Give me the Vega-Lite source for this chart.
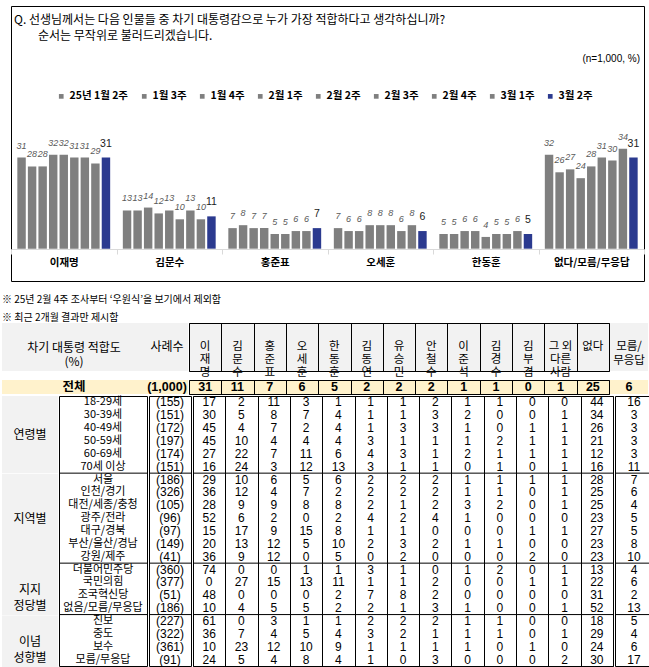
{
  "$schema": "https://vega.github.io/schema/vega-lite/v6.json",
  "padding": {"left": 2, "top": 5, "right": 2, "bottom": 4},
  "background": "white",
  "config": {
    "view": {"stroke": "#000", "strokeWidth": 1},
    "text": {"font": "Noto Sans CJK KR", "fontSize": 12, "color": "#000"},
    "axis": {"labelFont": "Noto Sans CJK KR"}
  },
  "datasets": {
    "bars": [
      {"cand": "이재명", "week": "25년 1월 2주", "pct": 31}, {"cand": "이재명", "week": "1월 3주", "pct": 28}, {"cand": "이재명", "week": "1월 4주", "pct": 28}, {"cand": "이재명", "week": "2월 1주", "pct": 32}, {"cand": "이재명", "week": "2월 2주", "pct": 32}, {"cand": "이재명", "week": "2월 3주", "pct": 31}, {"cand": "이재명", "week": "2월 4주", "pct": 31}, {"cand": "이재명", "week": "3월 1주", "pct": 29}, {"cand": "이재명", "week": "3월 2주", "pct": 31},
      {"cand": "김문수", "week": "25년 1월 2주", "pct": 13}, {"cand": "김문수", "week": "1월 3주", "pct": 13}, {"cand": "김문수", "week": "1월 4주", "pct": 14}, {"cand": "김문수", "week": "2월 1주", "pct": 12}, {"cand": "김문수", "week": "2월 2주", "pct": 13}, {"cand": "김문수", "week": "2월 3주", "pct": 10}, {"cand": "김문수", "week": "2월 4주", "pct": 13}, {"cand": "김문수", "week": "3월 1주", "pct": 10}, {"cand": "김문수", "week": "3월 2주", "pct": 11},
      {"cand": "홍준표", "week": "25년 1월 2주", "pct": 7}, {"cand": "홍준표", "week": "1월 3주", "pct": 8}, {"cand": "홍준표", "week": "1월 4주", "pct": 7}, {"cand": "홍준표", "week": "2월 1주", "pct": 7}, {"cand": "홍준표", "week": "2월 2주", "pct": 5}, {"cand": "홍준표", "week": "2월 3주", "pct": 5}, {"cand": "홍준표", "week": "2월 4주", "pct": 6}, {"cand": "홍준표", "week": "3월 1주", "pct": 6}, {"cand": "홍준표", "week": "3월 2주", "pct": 7},
      {"cand": "오세훈", "week": "25년 1월 2주", "pct": 7}, {"cand": "오세훈", "week": "1월 3주", "pct": 6}, {"cand": "오세훈", "week": "1월 4주", "pct": 6}, {"cand": "오세훈", "week": "2월 1주", "pct": 8}, {"cand": "오세훈", "week": "2월 2주", "pct": 8}, {"cand": "오세훈", "week": "2월 3주", "pct": 8}, {"cand": "오세훈", "week": "2월 4주", "pct": 6}, {"cand": "오세훈", "week": "3월 1주", "pct": 8}, {"cand": "오세훈", "week": "3월 2주", "pct": 6},
      {"cand": "한동훈", "week": "25년 1월 2주", "pct": 5}, {"cand": "한동훈", "week": "1월 3주", "pct": 5}, {"cand": "한동훈", "week": "1월 4주", "pct": 6}, {"cand": "한동훈", "week": "2월 1주", "pct": 6}, {"cand": "한동훈", "week": "2월 2주", "pct": 4}, {"cand": "한동훈", "week": "2월 3주", "pct": 5}, {"cand": "한동훈", "week": "2월 4주", "pct": 5}, {"cand": "한동훈", "week": "3월 1주", "pct": 6}, {"cand": "한동훈", "week": "3월 2주", "pct": 5},
      {"cand": "없다/모름/무응답", "week": "25년 1월 2주", "pct": 32}, {"cand": "없다/모름/무응답", "week": "1월 3주", "pct": 26}, {"cand": "없다/모름/무응답", "week": "1월 4주", "pct": 27}, {"cand": "없다/모름/무응답", "week": "2월 1주", "pct": 24}, {"cand": "없다/모름/무응답", "week": "2월 2주", "pct": 28}, {"cand": "없다/모름/무응답", "week": "2월 3주", "pct": 31}, {"cand": "없다/모름/무응답", "week": "2월 4주", "pct": 30}, {"cand": "없다/모름/무응답", "week": "3월 1주", "pct": 34}, {"cand": "없다/모름/무응답", "week": "3월 2주", "pct": 31}
    ],
    "head": [
      {"cand": "이재명", "h": "이\n재\n명"}, {"cand": "김문수", "h": "김\n문\n수"}, {"cand": "홍준표", "h": "홍\n준\n표"}, {"cand": "오세훈", "h": "오\n세\n훈"}, {"cand": "한동훈", "h": "한\n동\n훈"}, {"cand": "김동연", "h": "김\n동\n연"}, {"cand": "유승민", "h": "유\n승\n민"}, {"cand": "안철수", "h": "안\n철\n수"}, {"cand": "이준석", "h": "이\n준\n석"}, {"cand": "김경수", "h": "김\n경\n수"}, {"cand": "김부겸", "h": "김\n부\n겸"}, {"cand": "그외", "h": "그 외\n다른\n사람"}, {"cand": "없다", "h": "없다"}
    ],
    "total": [
      {"sub": "전체", "n": "(1,000)", "이재명": 31, "김문수": 11, "홍준표": 7, "오세훈": 6, "한동훈": 5, "김동연": 2, "유승민": 2, "안철수": 2, "이준석": 1, "김경수": 1, "김부겸": 0, "그외": 1, "없다": 25, "모름무응답": 6}
    ],
    "body": [
      {"sub": "18-29세", "n": "(155)", "이재명": 17, "김문수": 2, "홍준표": 11, "오세훈": 3, "한동훈": 1, "김동연": 1, "유승민": 1, "안철수": 2, "이준석": 1, "김경수": 1, "김부겸": 0, "그외": 0, "없다": 44, "모름무응답": 16},
      {"sub": "30-39세", "n": "(151)", "이재명": 30, "김문수": 5, "홍준표": 8, "오세훈": 7, "한동훈": 4, "김동연": 1, "유승민": 1, "안철수": 3, "이준석": 2, "김경수": 0, "김부겸": 0, "그외": 1, "없다": 34, "모름무응답": 3},
      {"sub": "40-49세", "n": "(172)", "이재명": 45, "김문수": 4, "홍준표": 7, "오세훈": 2, "한동훈": 4, "김동연": 1, "유승민": 3, "안철수": 3, "이준석": 1, "김경수": 0, "김부겸": 1, "그외": 1, "없다": 26, "모름무응답": 3},
      {"sub": "50-59세", "n": "(197)", "이재명": 45, "김문수": 10, "홍준표": 4, "오세훈": 4, "한동훈": 4, "김동연": 3, "유승민": 1, "안철수": 1, "이준석": 1, "김경수": 2, "김부겸": 1, "그외": 1, "없다": 21, "모름무응답": 3},
      {"sub": "60-69세", "n": "(174)", "이재명": 27, "김문수": 22, "홍준표": 7, "오세훈": 11, "한동훈": 6, "김동연": 4, "유승민": 3, "안철수": 1, "이준석": 2, "김경수": 1, "김부겸": 1, "그외": 1, "없다": 12, "모름무응답": 3},
      {"sub": "70세 이상", "n": "(151)", "이재명": 16, "김문수": 24, "홍준표": 3, "오세훈": 12, "한동훈": 13, "김동연": 3, "유승민": 1, "안철수": 1, "이준석": 0, "김경수": 1, "김부겸": 0, "그외": 1, "없다": 16, "모름무응답": 11},
      {"sub": "서울", "n": "(186)", "이재명": 29, "김문수": 10, "홍준표": 6, "오세훈": 5, "한동훈": 6, "김동연": 2, "유승민": 2, "안철수": 2, "이준석": 1, "김경수": 1, "김부겸": 1, "그외": 1, "없다": 28, "모름무응답": 7},
      {"sub": "인천/경기", "n": "(326)", "이재명": 36, "김문수": 12, "홍준표": 4, "오세훈": 7, "한동훈": 2, "김동연": 2, "유승민": 2, "안철수": 2, "이준석": 1, "김경수": 1, "김부겸": 0, "그외": 1, "없다": 25, "모름무응답": 6},
      {"sub": "대전/세종/충청", "n": "(105)", "이재명": 28, "김문수": 9, "홍준표": 9, "오세훈": 8, "한동훈": 8, "김동연": 2, "유승민": 1, "안철수": 2, "이준석": 3, "김경수": 2, "김부겸": 0, "그외": 1, "없다": 25, "모름무응답": 4},
      {"sub": "광주/전라", "n": "(96)", "이재명": 52, "김문수": 6, "홍준표": 2, "오세훈": 0, "한동훈": 2, "김동연": 4, "유승민": 2, "안철수": 4, "이준석": 1, "김경수": 0, "김부겸": 0, "그외": 0, "없다": 23, "모름무응답": 5},
      {"sub": "대구/경북", "n": "(97)", "이재명": 15, "김문수": 17, "홍준표": 9, "오세훈": 15, "한동훈": 8, "김동연": 1, "유승민": 1, "안철수": 0, "이준석": 0, "김경수": 0, "김부겸": 1, "그외": 1, "없다": 27, "모름무응답": 5},
      {"sub": "부산/울산/경남", "n": "(149)", "이재명": 20, "김문수": 13, "홍준표": 12, "오세훈": 5, "한동훈": 10, "김동연": 2, "유승민": 3, "안철수": 2, "이준석": 1, "김경수": 1, "김부겸": 0, "그외": 0, "없다": 23, "모름무응답": 8},
      {"sub": "강원/제주", "n": "(41)", "이재명": 36, "김문수": 9, "홍준표": 12, "오세훈": 0, "한동훈": 5, "김동연": 0, "유승민": 2, "안철수": 0, "이준석": 0, "김경수": 0, "김부겸": 2, "그외": 0, "없다": 23, "모름무응답": 10},
      {"sub": "더불어민주당", "n": "(360)", "이재명": 74, "김문수": 0, "홍준표": 0, "오세훈": 1, "한동훈": 1, "김동연": 3, "유승민": 1, "안철수": 0, "이준석": 1, "김경수": 2, "김부겸": 0, "그외": 1, "없다": 13, "모름무응답": 4},
      {"sub": "국민의힘", "n": "(377)", "이재명": 0, "김문수": 27, "홍준표": 15, "오세훈": 13, "한동훈": 11, "김동연": 1, "유승민": 1, "안철수": 2, "이준석": 0, "김경수": 0, "김부겸": 1, "그외": 1, "없다": 22, "모름무응답": 6},
      {"sub": "조국혁신당", "n": "(51)", "이재명": 48, "김문수": 0, "홍준표": 0, "오세훈": 0, "한동훈": 2, "김동연": 7, "유승민": 8, "안철수": 2, "이준석": 0, "김경수": 0, "김부겸": 0, "그외": 0, "없다": 31, "모름무응답": 2},
      {"sub": "없음/모름/무응답", "n": "(186)", "이재명": 10, "김문수": 4, "홍준표": 5, "오세훈": 5, "한동훈": 2, "김동연": 2, "유승민": 1, "안철수": 3, "이준석": 1, "김경수": 0, "김부겸": 0, "그외": 1, "없다": 52, "모름무응답": 13},
      {"sub": "진보", "n": "(227)", "이재명": 61, "김문수": 0, "홍준표": 3, "오세훈": 1, "한동훈": 1, "김동연": 2, "유승민": 2, "안철수": 2, "이준석": 1, "김경수": 1, "김부겸": 0, "그외": 0, "없다": 18, "모름무응답": 5},
      {"sub": "중도", "n": "(322)", "이재명": 36, "김문수": 7, "홍준표": 4, "오세훈": 5, "한동훈": 4, "김동연": 3, "유승민": 2, "안철수": 1, "이준석": 1, "김경수": 1, "김부겸": 0, "그외": 1, "없다": 29, "모름무응답": 4},
      {"sub": "보수", "n": "(361)", "이재명": 10, "김문수": 23, "홍준표": 12, "오세훈": 10, "한동훈": 9, "김동연": 1, "유승민": 1, "안철수": 1, "이준석": 1, "김경수": 0, "김부겸": 1, "그외": 0, "없다": 24, "모름무응답": 6},
      {"sub": "모름/무응답", "n": "(91)", "이재명": 24, "김문수": 5, "홍준표": 4, "오세훈": 8, "한동훈": 4, "김동연": 1, "유승민": 0, "안철수": 3, "이준석": 0, "김경수": 0, "김부겸": 0, "그외": 2, "없다": 30, "모름무응답": 17}
    ]
  },
  "center": true,
  "spacing": 12,
  "vconcat": [
    {
      "width": 633,
      "height": 275,
      "title": {
        "text": ["Q. 선생님께서는 다음 인물들 중 차기 대통령감으로 누가 가장 적합하다고 생각하십니까?", "\u200b\u3000\u3000순서는 무작위로 불러드리겠습니다."],
        "anchor": "start", "frame": "group", "orient": "top", "offset": 0, "baseline": "top",
        "dx": 3, "dy": 37, "font": "Noto Sans CJK KR", "fontSize": 12, "fontWeight": "normal", "color": "#000", "lineHeight": 16
      },
      "layer": [
        {
          "data": {"name": "bars"},
          "encoding": {
            "x": {
              "field": "cand", "type": "nominal",
              "scale": {"type": "band", "domain": ["이재명", "김문수", "홍준표", "오세훈", "한동훈", "없다/모름/무응답"], "paddingInner": 0, "paddingOuter": 0},
              "axis": {"orient": "bottom", "offset": -32, "title": null, "labelAngle": 0, "labelFont": "Noto Sans CJK KR", "labelFontSize": 10.5, "labelFontWeight": "bold", "labelColor": "#000", "labelPadding": 3, "tickBand": "extent", "tickColor": "#d9d9d9", "tickSize": 5, "domainColor": "#d9d9d9", "grid": false}
            },
            "xOffset": {
              "field": "week", "type": "nominal",
              "scale": {"domain": ["25년 1월 2주", "1월 3주", "1월 4주", "2월 1주", "2월 2주", "2월 3주", "2월 4주", "3월 1주", "3월 2주"], "paddingInner": 0.2, "paddingOuter": 0.6}
            },
            "y": {"field": "pct", "type": "quantitative", "scale": {"domain": [-11, 82.6], "nice": false, "zero": false}, "axis": null}
          },
          "layer": [
            {
              "mark": {"type": "bar"},
              "encoding": {
                "y2": {"datum": 0},
                "color": {
                  "field": "week", "type": "nominal",
                  "scale": {"domain": ["25년 1월 2주", "1월 3주", "1월 4주", "2월 1주", "2월 2주", "2월 3주", "2월 4주", "3월 1주", "3월 2주"], "range": ["#7f7f7f", "#7f7f7f", "#7f7f7f", "#7f7f7f", "#7f7f7f", "#7f7f7f", "#7f7f7f", "#7f7f7f", "#2b3a8f"]},
                  "legend": {"orient": "none", "legendX": 54, "legendY": 85, "direction": "horizontal", "columns": 9, "title": null, "symbolType": "square", "symbolSize": 22, "symbolStrokeWidth": 0, "labelFont": "Noto Sans CJK KR", "labelFontSize": 10.5, "labelFontWeight": "bold", "labelColor": "#000", "columnPadding": 10, "labelOffset": 3}
                }
              }
            },
            {
              "transform": [{"filter": "datum.week !== '3월 2주'"}],
              "mark": {"type": "text", "dy": -12, "fontStyle": "italic", "fontSize": 9, "font": "Liberation Sans", "color": "#595959"},
              "encoding": {"text": {"field": "pct", "type": "quantitative"}}
            },
            {
              "transform": [{"filter": "datum.week === '3월 2주'"}],
              "mark": {"type": "text", "dy": -14, "fontSize": 10.5, "font": "Liberation Sans", "color": "#1a1a1a"},
              "encoding": {"text": {"field": "pct", "type": "quantitative"}}
            }
          ]
        },
        {
          "data": {"values": [{"note": "(n=1,000, %)"}]},
          "mark": {"type": "text", "align": "right", "baseline": "middle", "dx": -4, "fontSize": 10, "font": "Liberation Sans", "color": "#000"},
          "encoding": {"text": {"field": "note", "type": "nominal"}, "x": {"value": "width"}, "y": {"datum": 64.5}}
        }
      ]
    },
    {
      "title": {
        "text": ["※ 25년 2월 4주 조사부터 ‘우원식’을 보기에서 제외함", "※ 최근 2개월 결과만 제시함"],
        "anchor": "start", "frame": "group", "orient": "top", "offset": 0,
        "font": "Noto Sans CJK KR", "fontSize": 10, "fontWeight": "normal", "color": "#000", "lineHeight": 18
      },
      "spacing": 0,
      "vconcat": [
        {
          "spacing": 0,
          "hconcat": [
            {"width": 144, "height": 48, "view": {"fill": "#f2f2f2"}, "data": {"values": [{"t": "차기 대통령 적합도\n(%)"}]}, "mark": {"type": "text", "lineBreak": "\n", "lineHeight": 14, "fontSize": 12, "dy": 1}, "encoding": {"text": {"field": "t", "type": "nominal"}}},
            {"width": 42, "height": 48, "view": {"fill": "#f2f2f2"}, "data": {"values": [{"t": "사례수"}]}, "mark": {"type": "text", "fontSize": 12, "dy": 0}, "encoding": {"text": {"field": "t", "type": "nominal"}}},
            {"width": 420, "height": 48, "view": {"fill": "#f2f2f2"}, "data": {"name": "head"}, "mark": {"type": "text", "lineBreak": "\n", "lineHeight": 13, "fontSize": 11.5, "dy": 0},
             "encoding": {
               "x": {"field": "cand", "type": "nominal", "scale": {"type": "band", "domain": ["이재명", "김문수", "홍준표", "오세훈", "한동훈", "김동연", "유승민", "안철수", "이준석", "김경수", "김부겸", "그외", "없다"], "paddingInner": 0, "paddingOuter": 0},
                     "axis": {"orient": "top", "grid": true, "tickBand": "extent", "labels": false, "ticks": false, "domain": false, "title": null, "gridColor": "#000", "gridOpacity": 1}},
               "text": {"field": "h", "type": "nominal"}}},
            {"width": 38, "height": 48, "view": {"fill": "#f2f2f2"}, "data": {"values": [{"t": "모름/\n무응답"}]}, "mark": {"type": "text", "lineBreak": "\n", "lineHeight": 14, "fontSize": 11.5, "dy": 0}, "encoding": {"text": {"field": "t", "type": "nominal"}}}
          ]
        },
        {
          "spacing": 0,
          "hconcat": [
            {"width": 144, "height": 14, "view": {"fill": "#fff2cc"}, "data": {"name": "total"}, "mark": {"type": "text", "fontWeight": "bold", "fontSize": 12.5}, "encoding": {"text": {"field": "sub", "type": "nominal"}}},
            {"width": 42, "height": 14, "view": {"fill": "#fff2cc"}, "data": {"name": "total"}, "mark": {"type": "text", "fontWeight": "bold", "fontSize": 12.5, "font": "Liberation Sans Narrow, Liberation Sans"}, "encoding": {"text": {"field": "n", "type": "nominal"}}},
            {"width": 420, "height": 14, "view": {"fill": "#fff2cc"}, "data": {"name": "total"},
             "transform": [{"fold": ["이재명", "김문수", "홍준표", "오세훈", "한동훈", "김동연", "유승민", "안철수", "이준석", "김경수", "김부겸", "그외", "없다"], "as": ["cand", "v"]}],
             "mark": {"type": "text", "fontWeight": "bold", "fontSize": 12.5, "font": "Liberation Sans Narrow, Liberation Sans"},
             "encoding": {
               "x": {"field": "cand", "type": "nominal", "scale": {"type": "band", "domain": ["이재명", "김문수", "홍준표", "오세훈", "한동훈", "김동연", "유승민", "안철수", "이준석", "김경수", "김부겸", "그외", "없다"], "paddingInner": 0, "paddingOuter": 0},
                     "axis": {"orient": "top", "grid": true, "tickBand": "extent", "labels": false, "ticks": false, "domain": false, "title": null, "gridColor": "#000", "gridOpacity": 1}},
               "text": {"field": "v", "type": "quantitative"}}},
            {"width": 38, "height": 14, "view": {"fill": "#fff2cc"}, "data": {"name": "total"}, "mark": {"type": "text", "fontWeight": "bold", "fontSize": 12.5, "font": "Liberation Sans Narrow, Liberation Sans"}, "encoding": {"text": {"field": "모름무응답", "type": "quantitative"}}}
          ]
        },
        {
          "spacing": 0,
          "hconcat": [
            {
              "spacing": 0,
              "vconcat": [
                {"width": 56, "height": 77.142857, "view": {"fill": "#f2f2f2"}, "data": {"values": [{"g": "연령별"}]}, "mark": {"type": "text", "fontSize": 12}, "encoding": {"text": {"field": "g", "type": "nominal"}}},
                {"width": 56, "height": 90, "view": {"fill": "#f2f2f2"}, "data": {"values": [{"g": "지역별"}]}, "mark": {"type": "text", "fontSize": 12}, "encoding": {"text": {"field": "g", "type": "nominal"}}},
                {"width": 56, "height": 51.428571, "view": {"fill": "#f2f2f2"}, "data": {"values": [{"g": "지지\n정당별"}]}, "mark": {"type": "text", "fontSize": 12, "lineBreak": "\n", "lineHeight": 16}, "encoding": {"text": {"field": "g", "type": "nominal"}}},
                {"width": 56, "height": 51.428571, "view": {"fill": "#f2f2f2"}, "data": {"values": [{"g": "이념\n성향별"}]}, "mark": {"type": "text", "fontSize": 12, "lineBreak": "\n", "lineHeight": 16}, "encoding": {"text": {"field": "g", "type": "nominal"}}}
              ]
            },
            {
              "width": 88, "height": 270, "data": {"name": "body"},
              "layer": [
                {"mark": {"type": "text", "fontSize": 11},
                 "encoding": {"y": {"field": "sub", "type": "nominal", "scale": {"type": "band", "domain": ["18-29세", "30-39세", "40-49세", "50-59세", "60-69세", "70세 이상", "서울", "인천/경기", "대전/세종/충청", "광주/전라", "대구/경북", "부산/울산/경남", "강원/제주", "더불어민주당", "국민의힘", "조국혁신당", "없음/모름/무응답", "진보", "중도", "보수", "모름/무응답"], "paddingInner": 0, "paddingOuter": 0}, "axis": null},
                              "text": {"field": "sub", "type": "nominal"}}},
                {"transform": [{"filter": "datum.sub === '70세 이상' || datum.sub === '강원/제주' || datum.sub === '없음/모름/무응답'"}],
                 "mark": {"type": "rule", "color": "#000", "strokeWidth": 1},
                 "encoding": {"y": {"field": "sub", "type": "nominal", "bandPosition": 1, "scale": {"type": "band", "domain": ["18-29세", "30-39세", "40-49세", "50-59세", "60-69세", "70세 이상", "서울", "인천/경기", "대전/세종/충청", "광주/전라", "대구/경북", "부산/울산/경남", "강원/제주", "더불어민주당", "국민의힘", "조국혁신당", "없음/모름/무응답", "진보", "중도", "보수", "모름/무응답"], "paddingInner": 0, "paddingOuter": 0}, "axis": null}}}
              ]
            },
            {
              "width": 42, "height": 270, "data": {"name": "body"},
              "layer": [
                {"mark": {"type": "text", "fontSize": 12, "font": "Liberation Sans Narrow, Liberation Sans"},
                 "encoding": {"y": {"field": "sub", "type": "nominal", "scale": {"type": "band", "domain": ["18-29세", "30-39세", "40-49세", "50-59세", "60-69세", "70세 이상", "서울", "인천/경기", "대전/세종/충청", "광주/전라", "대구/경북", "부산/울산/경남", "강원/제주", "더불어민주당", "국민의힘", "조국혁신당", "없음/모름/무응답", "진보", "중도", "보수", "모름/무응답"], "paddingInner": 0, "paddingOuter": 0}, "axis": null},
                              "text": {"field": "n", "type": "nominal"}}},
                {"transform": [{"filter": "datum.sub === '70세 이상' || datum.sub === '강원/제주' || datum.sub === '없음/모름/무응답'"}],
                 "mark": {"type": "rule", "color": "#000", "strokeWidth": 1},
                 "encoding": {"y": {"field": "sub", "type": "nominal", "bandPosition": 1, "scale": {"type": "band", "domain": ["18-29세", "30-39세", "40-49세", "50-59세", "60-69세", "70세 이상", "서울", "인천/경기", "대전/세종/충청", "광주/전라", "대구/경북", "부산/울산/경남", "강원/제주", "더불어민주당", "국민의힘", "조국혁신당", "없음/모름/무응답", "진보", "중도", "보수", "모름/무응답"], "paddingInner": 0, "paddingOuter": 0}, "axis": null}}}
              ]
            },
            {
              "width": 420, "height": 270, "data": {"name": "body"},
              "transform": [{"fold": ["이재명", "김문수", "홍준표", "오세훈", "한동훈", "김동연", "유승민", "안철수", "이준석", "김경수", "김부겸", "그외", "없다"], "as": ["cand", "v"]}],
              "layer": [
                {"mark": {"type": "text", "fontSize": 12, "font": "Liberation Sans Narrow, Liberation Sans"},
                 "encoding": {
                   "x": {"field": "cand", "type": "nominal", "scale": {"type": "band", "domain": ["이재명", "김문수", "홍준표", "오세훈", "한동훈", "김동연", "유승민", "안철수", "이준석", "김경수", "김부겸", "그외", "없다"], "paddingInner": 0, "paddingOuter": 0},
                         "axis": {"orient": "top", "grid": true, "tickBand": "extent", "labels": false, "ticks": false, "domain": false, "title": null, "gridColor": "#000", "gridOpacity": 1}},
                   "y": {"field": "sub", "type": "nominal", "scale": {"type": "band", "domain": ["18-29세", "30-39세", "40-49세", "50-59세", "60-69세", "70세 이상", "서울", "인천/경기", "대전/세종/충청", "광주/전라", "대구/경북", "부산/울산/경남", "강원/제주", "더불어민주당", "국민의힘", "조국혁신당", "없음/모름/무응답", "진보", "중도", "보수", "모름/무응답"], "paddingInner": 0, "paddingOuter": 0}, "axis": null},
                   "text": {"field": "v", "type": "quantitative"}}},
                {"transform": [{"filter": "datum.cand === '이재명' && (datum.sub === '70세 이상' || datum.sub === '강원/제주' || datum.sub === '없음/모름/무응답')"}],
                 "mark": {"type": "rule", "color": "#000", "strokeWidth": 1},
                 "encoding": {"y": {"field": "sub", "type": "nominal", "bandPosition": 1, "scale": {"type": "band", "domain": ["18-29세", "30-39세", "40-49세", "50-59세", "60-69세", "70세 이상", "서울", "인천/경기", "대전/세종/충청", "광주/전라", "대구/경북", "부산/울산/경남", "강원/제주", "더불어민주당", "국민의힘", "조국혁신당", "없음/모름/무응답", "진보", "중도", "보수", "모름/무응답"], "paddingInner": 0, "paddingOuter": 0}, "axis": null}}}
              ]
            },
            {
              "width": 38, "height": 270, "data": {"name": "body"},
              "layer": [
                {"mark": {"type": "text", "fontSize": 12, "font": "Liberation Sans Narrow, Liberation Sans"},
                 "encoding": {"y": {"field": "sub", "type": "nominal", "scale": {"type": "band", "domain": ["18-29세", "30-39세", "40-49세", "50-59세", "60-69세", "70세 이상", "서울", "인천/경기", "대전/세종/충청", "광주/전라", "대구/경북", "부산/울산/경남", "강원/제주", "더불어민주당", "국민의힘", "조국혁신당", "없음/모름/무응답", "진보", "중도", "보수", "모름/무응답"], "paddingInner": 0, "paddingOuter": 0}, "axis": null},
                              "text": {"field": "모름무응답", "type": "quantitative"}}},
                {"transform": [{"filter": "datum.sub === '70세 이상' || datum.sub === '강원/제주' || datum.sub === '없음/모름/무응답'"}],
                 "mark": {"type": "rule", "color": "#000", "strokeWidth": 1},
                 "encoding": {"y": {"field": "sub", "type": "nominal", "bandPosition": 1, "scale": {"type": "band", "domain": ["18-29세", "30-39세", "40-49세", "50-59세", "60-69세", "70세 이상", "서울", "인천/경기", "대전/세종/충청", "광주/전라", "대구/경북", "부산/울산/경남", "강원/제주", "더불어민주당", "국민의힘", "조국혁신당", "없음/모름/무응답", "진보", "중도", "보수", "모름/무응답"], "paddingInner": 0, "paddingOuter": 0}, "axis": null}}}
              ]
            }
          ]
        }
      ]
    }
  ]
}
